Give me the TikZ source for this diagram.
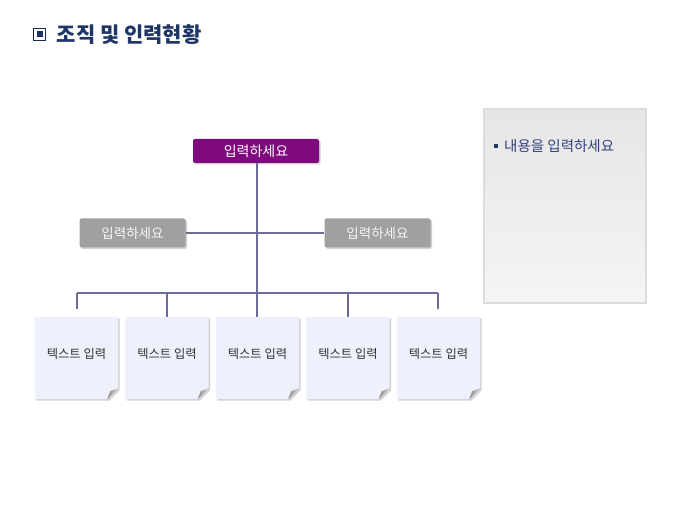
\documentclass[tikz,border=0pt]{standalone}
\usepackage{fontspec}
\setmainfont{Noto Sans CJK KR}
\usetikzlibrary{shadows}
\definecolor{navy}{HTML}{1F3566}
\definecolor{conn}{HTML}{6C6C9C}
\definecolor{topfill}{HTML}{7E0A7E}
\definecolor{grayfill}{HTML}{A0A0A0}
\definecolor{leaf}{HTML}{EEF1FC}
\definecolor{panelborder}{HTML}{DCDCDC}
\definecolor{ptxt}{HTML}{34407E}
\tikzset{
  conline/.style={draw=conn, line width=2pt},
  topbox/.style={rectangle, rounded corners=2pt, fill=topfill, text=white,
    minimum width=126pt, minimum height=24pt, inner sep=0pt,
    font=\fontsize{14}{16}\selectfont,
    drop shadow={shadow xshift=1.5pt, shadow yshift=-1.5pt, fill=black!30, opacity=0.6}},
  graybox/.style={rectangle, rounded corners=2pt, fill=grayfill, text=white!93!gray,
    minimum width=106pt, minimum height=29pt, inner sep=0pt,
    font=\fontsize{13.5}{15}\selectfont,
    drop shadow={shadow xshift=1.5pt, shadow yshift=-1.5pt, fill=black!30, opacity=0.6}},
  leafbox/.style={rectangle, minimum width=83pt, minimum height=82pt, inner sep=0pt},
  leaffill/.style={fill=leaf},
  leafshadow/.style={fill=black!18},
  leaftext/.style={text=black!80, inner sep=0pt, font=\fontsize{12.3}{14}\selectfont},
}
\begin{document}
\begin{tikzpicture}[x=1pt,y=1pt]
\useasboundingbox (0,0) rectangle (680,510);
\fill[white] (0,0) rectangle (680,510);
% title
\node[draw=navy!80!black, line width=1.5pt, minimum size=12pt, inner sep=0pt] (tb) at (39.5,475.5) {};
\node[fill=navy, minimum size=6pt, inner sep=0pt] (tbi) at (tb.center) {};
\node[anchor=west, text=navy, font=\fontsize{21}{23}\selectfont\bfseries, inner sep=0pt] (title) at (56.5,475) {조직 및 인력현황};
% right panel
\shade[top color=black!10, bottom color=black!4] (484,207) rectangle (646,401);
\node[draw=panelborder, line width=1.5pt, minimum width=162pt, minimum height=194pt, inner sep=0pt] (panel) at (565,304) {};
\node[fill=navy, minimum size=4pt, inner sep=0pt] (pb) at (496,364) {};
\node[anchor=west, text=ptxt, font=\fontsize{14.5}{16}\selectfont, inner sep=0pt] (ptext) at (504,364) {내용을 입력하세요};
% nodes
\node[topbox] (top) at (256,359) {입력하세요};
\node[graybox] (gl) at (132.5,277) {입력하세요};
\node[graybox] (gr) at (377.5,277) {입력하세요};
\foreach \i/\x in {1/76.5,2/167,3/257.5,4/348,5/438.5}{
  \node[leafbox] (b\i) at (\x,152) {};
  \coordinate (c\i) at (b\i.south east);
  \fill[leafshadow] ([xshift=1.5pt,yshift=-1.5pt]b\i.north west) -- ([xshift=1.5pt,yshift=-1.5pt]b\i.north east)
     -- ([xshift=1.5pt,yshift=9pt]c\i) -- ([xshift=-9pt,yshift=-1.5pt]c\i) -- ([xshift=1.5pt,yshift=-1.5pt]b\i.south west) -- cycle;
  \fill[leaffill] (b\i.north west) -- (b\i.north east) -- ([yshift=11pt]c\i) -- ([xshift=-11pt]c\i) -- (b\i.south west) -- cycle;
  \shade[left color=black!45, right color=black!18]
    ([yshift=11pt]c\i) -- ([xshift=-11pt]c\i) -- ([xshift=-8pt,yshift=8pt]c\i) -- cycle;
  \node[leaftext] (t\i) at ([yshift=4pt]b\i.center) {텍스트 입력};
}
% connectors
\coordinate (bus) at (257,217);
\coordinate (busL) at (77,217);
\coordinate (busR) at (438,217);
\draw[conline] (gl.east) -- (gr.west);
\draw[conline] ([xshift=1pt]top.south) -- (bus);
\draw[conline] (busL) -- (busR);
\draw[conline] (busL) -- ([yshift=8pt]b1.north -| busL);
\draw[conline] (b2.north |- bus) -- (b2.north);
\draw[conline] (bus) -- (bus |- b3.north);
\draw[conline] (b4.north |- bus) -- (b4.north);
\draw[conline] (busR) -- ([yshift=8pt]b5.north -| busR);
\end{tikzpicture}
\end{document}
